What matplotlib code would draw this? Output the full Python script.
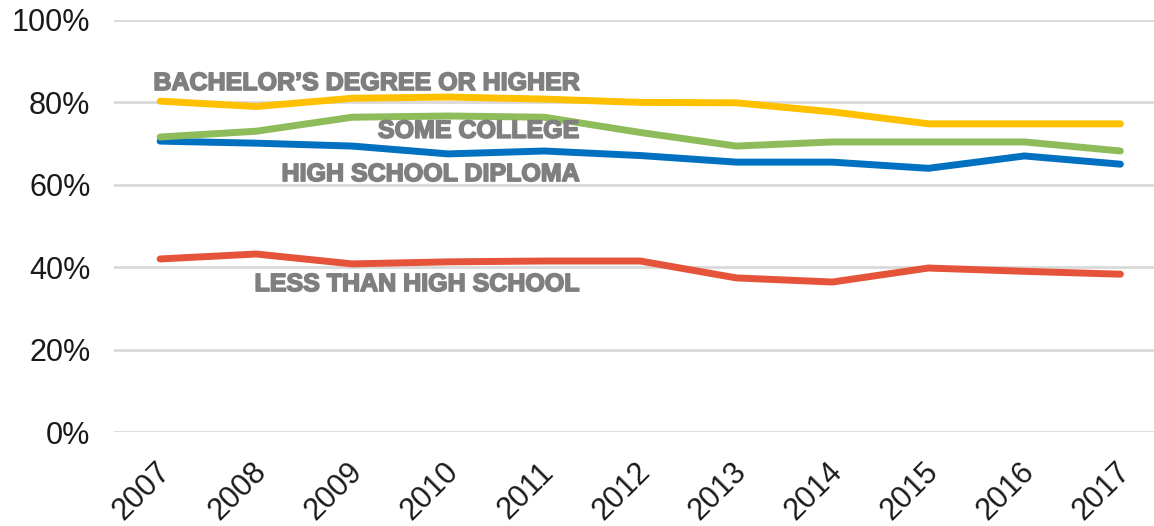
import numpy as np
import matplotlib.pyplot as plt
import matplotlib.patheffects as pe
from matplotlib.transforms import ScaledTranslation

plt.rcParams['font.family'] = ['Liberation Sans', 'DejaVu Sans']

years = [2007, 2008, 2009, 2010, 2011, 2012, 2013, 2014, 2015, 2016, 2017]
bachelor = [80.3, 79.0, 81.0, 81.3, 80.8, 80.0, 79.9, 77.7, 74.8, 74.8, 74.8]
some_college = [71.6, 73.0, 76.4, 76.7, 76.4, 72.7, 69.4, 70.4, 70.4, 70.4, 68.2]
high_school = [70.6, 70.1, 69.4, 67.5, 68.2, 67.1, 65.5, 65.5, 64.0, 67.0, 65.0]
less_than_hs = [42.0, 43.2, 40.8, 41.3, 41.5, 41.5, 37.4, 36.4, 39.8, 39.0, 38.3]

series_labels = ["BACHELOR\u2019S DEGREE OR HIGHER", "SOME COLLEGE",
                 "HIGH SCHOOL DIPLOMA", "LESS THAN HIGH SCHOOL"]
label_y = [84.7, 73.1, 62.6, 35.9]

fig = plt.figure(figsize=(11.54, 5.26), dpi=100)
ax = fig.add_axes([0.0988, 0.1787, 0.9012, 0.7833])

ax.plot(years, less_than_hs, color='#E5533A', lw=5, solid_capstyle='round', zorder=3)
ax.plot(years, high_school, color='#0070C0', lw=5, solid_capstyle='round', zorder=4)
ax.plot(years, some_college, color='#8FBC5A', lw=5, solid_capstyle='round', zorder=5)
ax.plot(years, bachelor, color='#FFC000', lw=5, solid_capstyle='round', zorder=6)

for txt, yy in zip(series_labels, label_y):
    ax.text(2011.36, yy, txt, ha='right', va='center', fontsize=18,
            fontweight='bold', color='#7F7F80', zorder=7,
            path_effects=[pe.withStroke(linewidth=1.2, foreground='#7F7F80')])

ax.set_xlim(2006.52, 2017.35)
ax.set_ylim(0, 100)
ax.set_yticks(np.arange(0, 101, 20))
ax.set_yticklabels([f"{v}%" for v in range(0, 101, 20)])
ax.set_xticks(years)
ax.set_xticklabels([str(y) for y in years], rotation=45, ha='right',
                   rotation_mode='anchor')
ax.tick_params(axis='both', length=0, labelsize=22, colors='#1a1a1a')
ax.tick_params(axis='y', pad=17)
ax.tick_params(axis='x', pad=18)
shift = ScaledTranslation(-5 / 100, 0, fig.dpi_scale_trans)
for lab in ax.get_xticklabels():
    lab.set_transform(lab.get_transform() + shift)
ax.grid(axis='y', color='#D9D9D9', lw=2)
ax.set_axisbelow(True)
for s in ax.spines.values():
    s.set_visible(False)

plt.savefig("out.png", dpi=100)
